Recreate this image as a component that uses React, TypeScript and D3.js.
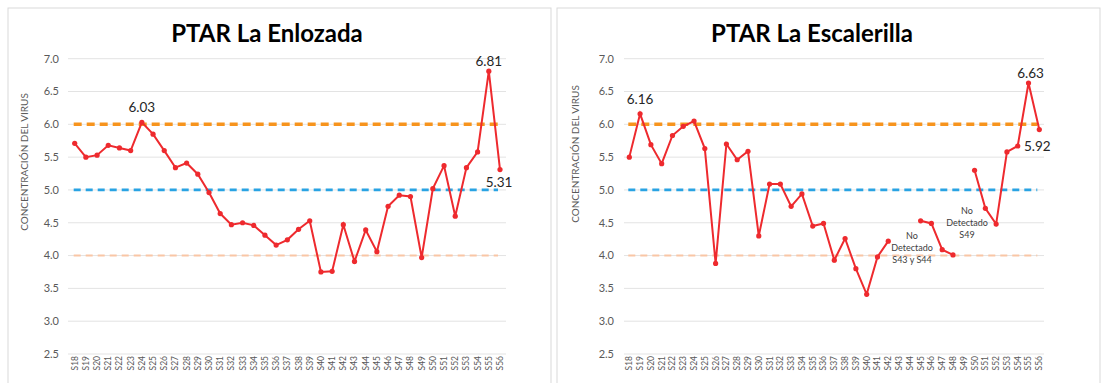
import React from "react";
import * as d3 from "d3";

const categories = Array.from({ length: 39 }, (_, i) => `S${18 + i}`);

const enlozadaValues: (number | null)[] = [
  5.71, 5.5, 5.53, 5.68, 5.64, 5.6, 6.03, 5.85, 5.6, 5.34, 5.41, 5.24, 4.96,
  4.64, 4.47, 4.5, 4.46, 4.31, 4.16, 4.24, 4.4, 4.53, 3.75, 3.76, 4.47, 3.91,
  4.39, 4.06, 4.75, 4.92, 4.9, 3.97, 5.02, 5.37, 4.6, 5.34, 5.58, 6.81, 5.31,
];

const escalerillaValues: (number | null)[] = [
  5.5, 6.16, 5.69, 5.4, 5.83, 5.97, 6.05, 5.63, 3.88, 5.7, 5.46, 5.59, 4.3,
  5.09, 5.09, 4.75, 4.94, 4.45, 4.49, 3.93, 4.26, 3.8, 3.41, 3.98, 4.22, null,
  null, 4.53, 4.49, 4.09, 4.01, null, 5.3, 4.72, 4.48, 5.58, 5.67, 6.63, 5.92,
];

const yTicks = [2.5, 3.0, 3.5, 4.0, 4.5, 5.0, 5.5, 6.0, 6.5, 7.0];

const refLines = [
  { value: 6.0, color: "#F7941D", width: 3.5, dash: "8,5" },
  { value: 5.0, color: "#29A3E3", width: 2.8, dash: "7,5" },
  { value: 4.0, color: "#F9C6A5", width: 2, dash: "7,5" },
];

type Label = { index: number; text: string; dx: number; dy: number };
type Note = { x: number; y: number; lines: string[] };

type PanelProps = {
  title: string;
  titleX: number;
  values: (number | null)[];
  ox: number;
  width: number;
  x0: number;
  x1: number;
  gridL: number;
  gridR: number;
  tickX: number;
  axisTitleX: number;
  axisTitleY: number;
  labels: Label[];
  notes: Note[];
};

const FONT = "Lato, 'Open Sans', sans-serif";

function Panel(p: PanelProps) {
  const y = d3.scaleLinear().domain([2.5, 7.0]).range([354, 58.7]);
  const x = d3
    .scalePoint<string>()
    .domain(categories)
    .range([p.x0, p.x1]);
  const line = d3
    .line<number | null>()
    .defined((d) => d !== null)
    .x((_, i) => x(categories[i]) as number)
    .y((d) => y(d as number));
  const pathD = line(p.values) || "";
  return (
    <g>
      <rect
        x={p.ox}
        y={8}
        width={p.width}
        height={376}
        fill="#fff"
        stroke="#d9d9d9"
        strokeWidth={1}
      />
      <text
        x={p.titleX}
        y={42}
        textAnchor="middle"
        fontFamily={FONT}
        fontWeight="bold"
        fontSize={24}
        fill="#000"
      >
        {p.title}
      </text>
      {yTicks.map((t) => (
        <g key={t}>
          <line
            x1={p.gridL}
            x2={p.gridR}
            y1={y(t)}
            y2={y(t)}
            stroke="#e3e3e3"
            strokeWidth={1}
          />
          <text
            x={p.tickX}
            y={y(t)}
            dy="0.35em"
            textAnchor="end"
            fontFamily={FONT}
            fontSize={11}
            fill="#595959"
          >
            {t.toFixed(1)}
          </text>
        </g>
      ))}
      <text
        transform={`translate(${p.axisTitleX},${p.axisTitleY}) rotate(-90)`}
        textAnchor="middle"
        dy="0.35em"
        fontFamily={FONT}
        fontSize={10}
        fill="#595959"
      >
        CONCENTRACIÓN DEL VIRUS
      </text>
      {categories.map((c) => (
        <text
          key={c}
          transform={`translate(${x(c)},${356}) rotate(-90)`}
          textAnchor="end"
          dy="0.35em"
          fontFamily={FONT}
          fontSize={8.5}
          fill="#595959"
        >
          {c}
        </text>
      ))}
      {refLines.map((r) => (
        <line
          key={r.value}
          x1={p.x0 - 1}
          x2={p.x1 - 2}
          y1={y(r.value)}
          y2={y(r.value)}
          stroke={r.color}
          strokeWidth={r.width}
          strokeDasharray={r.dash}
        />
      ))}
      <path d={pathD} fill="none" stroke="#EE2A2E" strokeWidth={2} />
      {p.values.map((v, i) =>
        v === null ? null : (
          <circle
            key={i}
            cx={x(categories[i])}
            cy={y(v)}
            r={2.6}
            fill="#EE2A2E"
          />
        )
      )}
      {p.labels.map((l) => (
        <text
          key={l.index}
          x={(x(categories[l.index]) as number) + l.dx}
          y={y(p.values[l.index] as number) + l.dy}
          textAnchor="middle"
          fontFamily={FONT}
          fontSize={13.5}
          fill="#262626"
        >
          {l.text}
        </text>
      ))}
      {p.notes.map((n, k) => (
        <g key={k}>
          {n.lines.map((s, j) => (
            <text
              key={j}
              x={n.x}
              y={n.y + j * 11.7}
              textAnchor="middle"
              dy="0.35em"
              fontFamily={FONT}
              fontSize={9}
              fill="#404040"
            >
              {s}
            </text>
          ))}
        </g>
      ))}
    </g>
  );
}

export default function App() {
  return (
    <svg
      width={1106}
      height={383}
      style={{ position: "absolute", left: 0, top: 0, background: "#fff" }}
    >
      <Panel
        title="PTAR La Enlozada"
        titleX={267}
        values={enlozadaValues}
        ox={8}
        width={543}
        x0={74.7}
        x1={500}
        gridL={68}
        gridR={506}
        tickX={59}
        axisTitleX={24}
        axisTitleY={162}
        labels={[
          { index: 6, text: "6.03", dx: 0, dy: -10 },
          { index: 37, text: "6.81", dx: 0, dy: -5 },
          { index: 38, text: "5.31", dx: -1, dy: 17 },
        ]}
        notes={[]}
      />
      <Panel
        title="PTAR La Escalerilla"
        titleX={812}
        values={escalerillaValues}
        ox={557}
        width={543}
        x0={629.3}
        x1={1039.3}
        gridL={624}
        gridR={1044}
        tickX={614}
        axisTitleX={575}
        axisTitleY={154}
        labels={[
          { index: 1, text: "6.16", dx: 0, dy: -10 },
          { index: 37, text: "6.63", dx: 2, dy: -5 },
          { index: 38, text: "5.92", dx: -2, dy: 21 },
        ]}
        notes={[
          { x: 912, y: 236, lines: ["No", "Detectado", "S43 y S44"] },
          { x: 967, y: 211, lines: ["No", "Detectado", "S49"] },
        ]}
      />
    </svg>
  );
}
